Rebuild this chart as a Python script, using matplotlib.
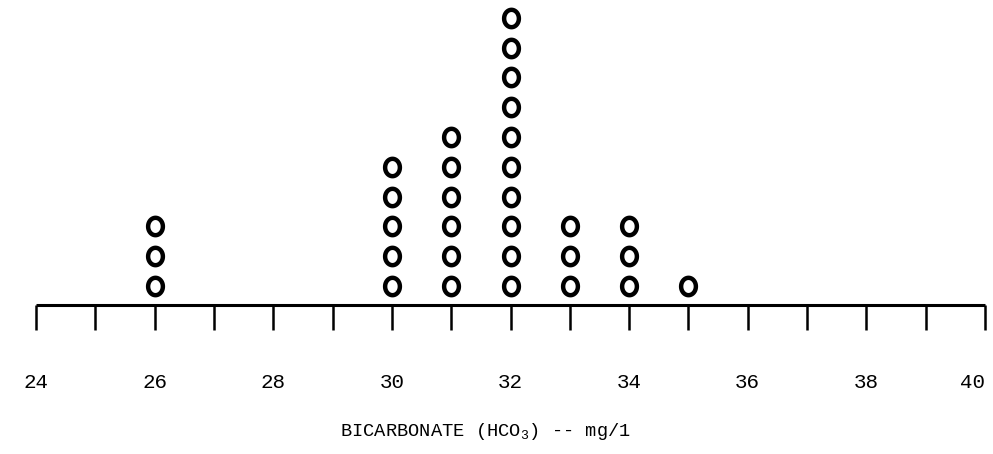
import numpy as np
import matplotlib
matplotlib.use('Agg')
import matplotlib.pyplot as plt
from matplotlib.path import Path

plt.rcParams['font.family'] = ['Liberation Mono', 'DejaVu Sans Mono']
plt.rcParams['mathtext.fontset'] = 'custom'
plt.rcParams['mathtext.rm'] = 'Liberation Mono'
plt.rcParams['mathtext.default'] = 'regular'

# bicarbonate values (mg/l) and number of samples at each value
values = [26, 30, 31, 32, 33, 34, 35]
counts = [3, 5, 6, 10, 3, 3, 1]

major_ticks = [24, 26, 28, 30, 32, 34, 36, 38, 40]
minor_ticks = [25, 27, 29, 31, 33, 35, 37, 39]

# slightly tall ellipse marker, like the hand-stamped circles
t = np.linspace(0, 2 * np.pi, 60)
oval = Path(np.column_stack([0.85 * np.cos(t), np.sin(t)]), closed=True)

W, H = 993, 454
fig = plt.figure(figsize=(W / 100, H / 100), dpi=100)
ax = fig.add_axes([36 / W, 1 - 305 / H, (985 - 36) / W, 305 / H])

for v, n in zip(values, counts):
    ys = np.arange(n) + 0.64
    ax.plot([v] * n, ys, linestyle='none', marker=oval, markersize=12.5,
            markerfacecolor='white', markeredgecolor='black', markeredgewidth=3.2)

ax.set_xlim(24, 40)
ax.set_ylim(0, 305 / 29.8)
ax.set_xticks(major_ticks)
ax.set_xticks(minor_ticks, minor=True)
ax.tick_params(axis='x', which='both', direction='out', length=18, width=1.8,
               color='black', pad=31, labelsize=15)
ax.get_xticklabels()[-1].set_horizontalalignment('right')
ax.set_yticks([])
for side in ['top', 'left', 'right']:
    ax.spines[side].set_visible(False)
ax.spines['bottom'].set_linewidth(2.2)
ax.spines['bottom'].set_capstyle('butt')

fig.text(485 / W, 1 - 432 / H, r'BICARBONATE (HCO$_3$) -- mg/1',
         ha='center', va='center', fontsize=13.5)

fig.savefig('out.png', dpi=100, facecolor='white')
